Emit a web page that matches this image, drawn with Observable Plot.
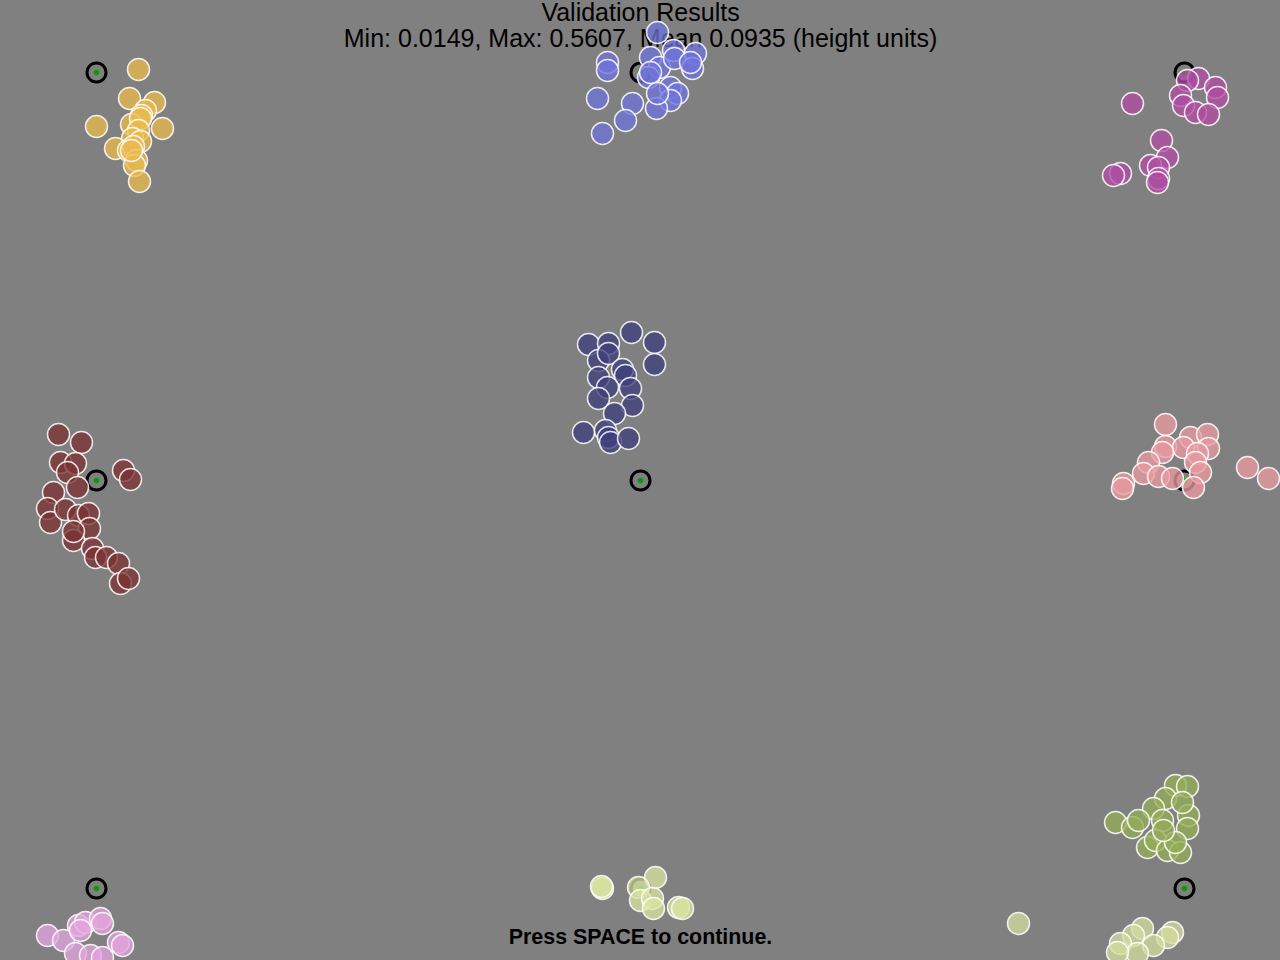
<!DOCTYPE html>
<html>
<head>
<meta charset="utf-8">
<script src="https://cdn.jsdelivr.net/npm/d3@7"></script>
<script src="https://cdn.jsdelivr.net/npm/@observablehq/plot@0.6"></script>
<style>
  html, body { margin: 0; padding: 0; background: #808080; overflow: hidden; }
  svg { display: block; }
</style>
</head>
<body>
<div id="chart"></div>
<script>
// Validation targets (screen pixels)
const targetX = [96, 640, 1184, 96, 640, 1184, 96, 640, 1184];
const targetY = [72, 72, 72, 480, 480, 480, 888, 888, 888];

// Gaze samples per group: [x, y]
const groupNames = ["TL", "TC", "TR", "ML", "C", "MR", "BL", "BC", "BR", "BRpale"];
const groupColors = ["#eab94c", "#6f72da", "#b04ca2", "#7a3030", "#3e3e7c", "#e89aa0", "#e4a4de", "#d9e5a2", "#94ac56", "#d2dc9e"];

const ptsTL = [[138,69],[129,98],[154,102],[145,110],[141,115],[96,126],[131,124],[162,128],[140,118],[138,130],[132,138],[140,141],[115,148],[128,150],[133,146],[136,160],[134,165],[139,181],[131,150]];
const ptsTC = [[657,32],[607,62],[607,70],[597,98],[632,103],[625,120],[602,133],[650,57],[659,67],[648,77],[673,50],[674,58],[695,53],[692,68],[690,62],[670,87],[677,93],[670,100],[656,108],[657,93],[650,72]];
const ptsTR = [[1132,103],[1198,78],[1187,80],[1215,87],[1217,97],[1180,95],[1183,105],[1195,112],[1208,114],[1161,140],[1167,157],[1150,165],[1158,167],[1120,173],[1113,175],[1158,178],[1157,182]];
const ptsML = [[58,434],[81,442],[60,462],[75,463],[67,472],[77,487],[53,492],[47,508],[50,522],[65,509],[78,515],[88,513],[89,528],[73,540],[73,531],[92,548],[95,557],[106,557],[118,563],[123,470],[130,479],[120,583],[128,578]];
const ptsC = [[631,332],[588,344],[608,343],[654,342],[654,364],[598,360],[608,353],[622,369],[598,377],[625,375],[607,387],[630,388],[598,398],[632,405],[614,413],[583,432],[605,430],[608,437],[610,442],[628,438]];
const ptsMR = [[1165,424],[1190,437],[1207,434],[1165,446],[1183,447],[1208,448],[1197,453],[1162,452],[1148,462],[1195,462],[1143,473],[1200,472],[1158,476],[1172,478],[1193,487],[1123,483],[1122,488],[1247,467],[1268,478]];
const ptsBL = [[47,935],[63,940],[78,925],[85,922],[100,918],[102,923],[80,930],[118,942],[122,945],[75,953],[90,955],[102,957]];
const ptsBC = [[602,888],[601,886],[655,877],[638,887],[640,900],[652,898],[653,908],[678,907],[682,908]];
const ptsBR = [[1175,785],[1187,786],[1165,798],[1153,808],[1115,822],[1132,827],[1138,820],[1162,820],[1188,815],[1187,828],[1182,802],[1147,847],[1155,840],[1167,850],[1180,852],[1175,842],[1163,830]];
const ptsBRpale = [[1018,923],[1142,928],[1172,932],[1167,937],[1133,935],[1120,943],[1153,945],[1137,953],[1117,952]];

const titleText = ["Validation Results", "Min: 0.0149, Max: 0.5607, Mean 0.0935 (height units)"];
const footerText = ["Press SPACE to continue."];

const allGroups = [ptsTL, ptsTC, ptsTR, ptsML, ptsC, ptsMR, ptsBL, ptsBC, ptsBR, ptsBRpale];
const samples = allGroups.flatMap((g, i) => g.map(([x, y]) => ({x, y, group: groupNames[i]})));
const targets = targetX.map((x, i) => ({x, y: targetY[i]}));
const titles = [
  {x: 640, y: 12.5, text: titleText[0]},
  {x: 640, y: 38, text: titleText[1]}
];
const footers = [{x: 640, y: 937, text: footerText[0]}];

const chart = Plot.plot({
  width: 1280,
  height: 960,
  margin: 0,
  style: {background: "#808080", fontFamily: "'Liberation Sans', Arial, sans-serif"},
  x: {domain: [0, 1280], axis: null},
  y: {domain: [0, 960], reverse: true, axis: null},
  color: {domain: groupNames, range: groupColors},
  marks: [
    Plot.text(titles, {x: "x", y: "y", text: "text", fontSize: 25, fill: "black"}),
    Plot.text(footers, {x: "x", y: "y", text: "text", fontSize: 21.4, fontWeight: "bold", fill: "black"}),
    Plot.dot(targets, {x: "x", y: "y", r: 9.5, stroke: "black", strokeWidth: 3, fill: "#808080"}),
    Plot.dot(targets, {x: "x", y: "y", r: 2.8, fill: "#00a000"}),
    Plot.dot(samples, {x: "x", y: "y", r: 11, fill: "group", fillOpacity: 0.76, stroke: "white", strokeOpacity: 0.85, strokeWidth: 1.5})
  ]
});
document.getElementById("chart").appendChild(chart);
</script>
</body>
</html>
